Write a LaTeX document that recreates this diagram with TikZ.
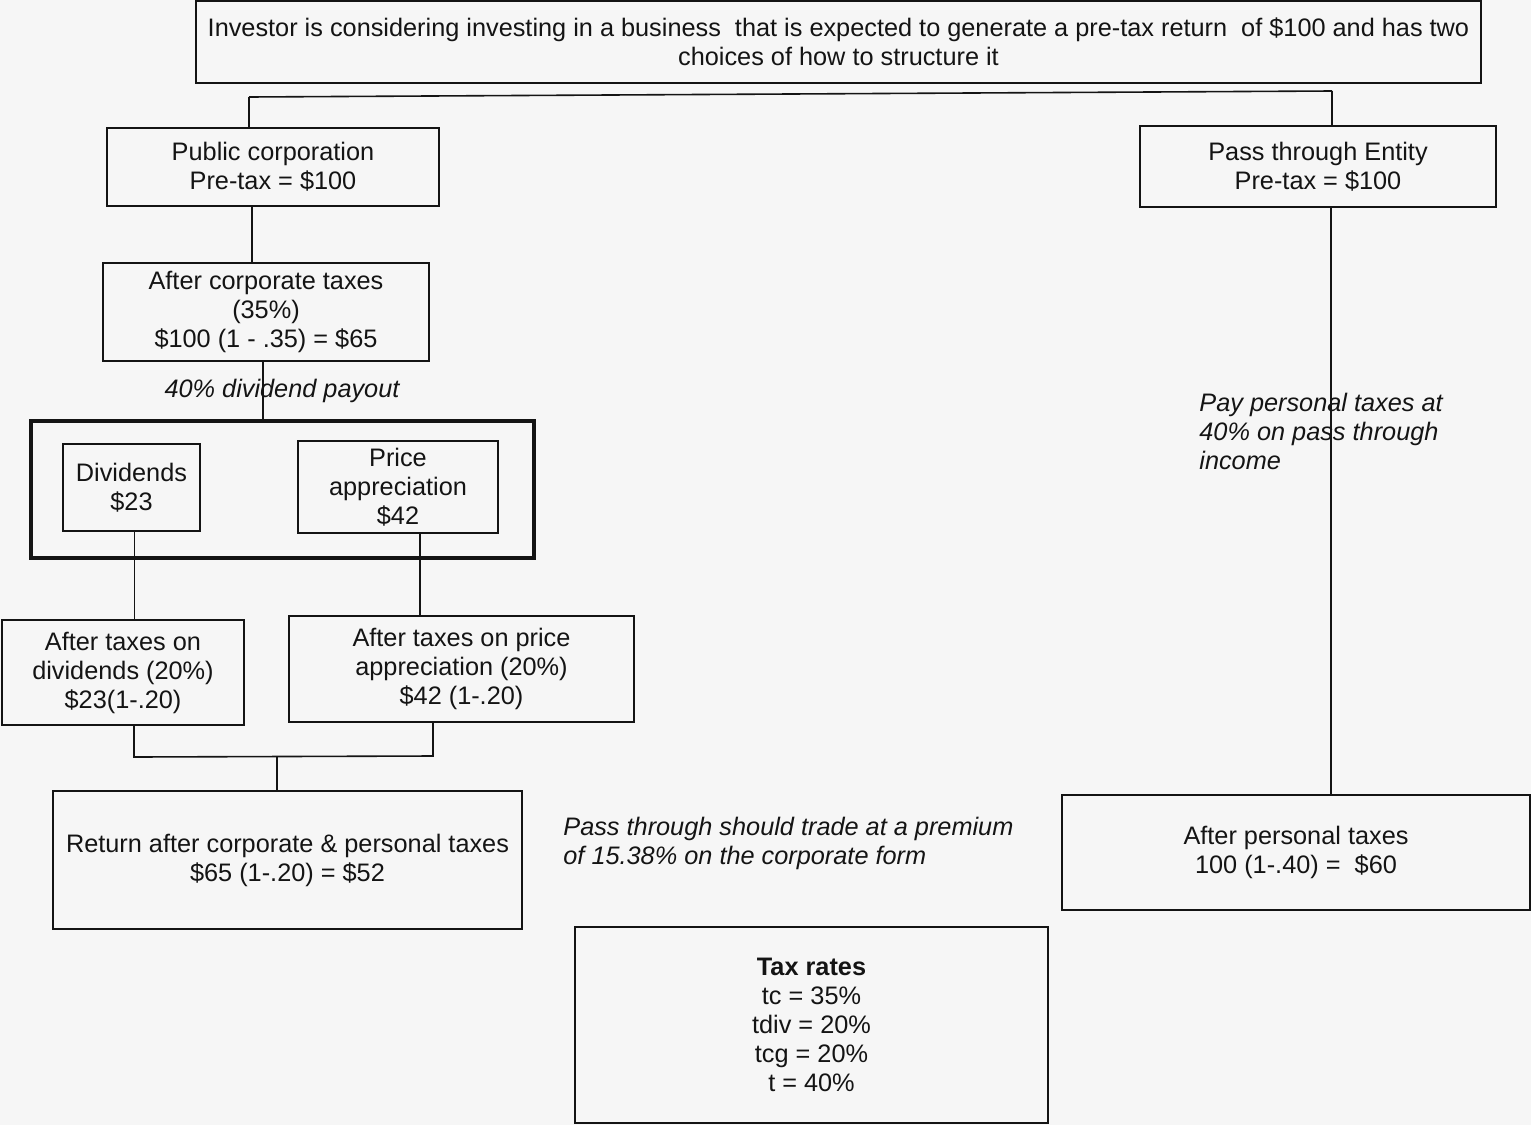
\documentclass[tikz,border=0pt]{standalone}
\usepackage{fontspec}
\setmainfont{Liberation Sans}
\definecolor{bg}{RGB}{246,246,246}
\definecolor{ink}{RGB}{20,20,20}
\begin{document}
\begin{tikzpicture}[x=0.5pt,y=-0.5pt,
  every node/.style={font=\fontsize{12.65}{14.5}\selectfont, text=ink},
  box/.style={draw=ink, line width=1pt, inner sep=0pt, align=center},
  bigbox/.style={draw=ink, line width=2pt, inner sep=0pt},
  note/.style={font=\fontsize{12.65}{14.5}\selectfont\itshape, align=left, inner sep=0pt},
  conn/.style={draw=ink, line width=0.8pt}]
\fill[bg] (0,0) rectangle (1531,1125);
\useasboundingbox (0,0) rectangle (1531,1125);

\node[box, minimum width=642.5pt, minimum height=41pt] (top) at (838.5,42)
  {Investor is considering investing in a business\ \ that is expected to generate a pre-tax return\ \ of \$100 and has two\\choices of how to structure it};

\node[box, minimum width=166pt, minimum height=39pt] (pub) at (273,167) {Public corporation\\Pre-tax = \$100};
\node[box, minimum width=163pt, minimum height=49pt] (corp) at (266,312) {After corporate taxes\\(35\%)\\\$100 (1 - .35) = \$65};
\node[bigbox, minimum width=251.5pt, minimum height=68.5pt] (grp) at (282.5,489.5) {};
\node[box, minimum width=68.5pt, minimum height=43.5pt] (div) at (131.5,487.5) {Dividends\\\$23};
\node[box, minimum width=100pt, minimum height=46pt] (price) at (398,487) {Price\\appreciation\\\$42};
\node[box, minimum width=121pt, minimum height=52.5pt] (atd) at (123,672.5) {After taxes on\\dividends (20\%)\\\$23(1-.20)};
\node[box, minimum width=172.5pt, minimum height=53pt] (atp) at (461.5,669) {After taxes on price\\appreciation (20\%)\\\$42 (1-.20)};
\node[box, minimum width=234.5pt, minimum height=69pt] (ret) at (287.5,860) {Return after corporate \& personal taxes\\\$65 (1-.20) = \$52};
\node[box, minimum width=236.5pt, minimum height=98pt] (tax) at (811.5,1025) {\textbf{Tax rates}\\tc = 35\%\\tdiv = 20\%\\tcg = 20\%\\t = 40\%};
\node[box, minimum width=178pt, minimum height=40.5pt] (pte) at (1318,166.5) {Pass through Entity\\Pre-tax = \$100};
\node[box, minimum width=234pt, minimum height=57.5pt] (apt) at (1296,852.5) {After personal taxes\\100 (1-.40) =\ \ \$60};

\node[note, anchor=center] (payout) at (282,391) {40\% dividend payout};
\node[note, anchor=west] (prem) at (563,843.5) {Pass through should trade at a premium\\of 15.38\% on the corporate form};
\node[note, anchor=west] (pay) at (1199,431) {Pay personal taxes at\\40\% on pass through\\income};

\coordinate (jl) at (249,97);
\coordinate (jr) at (1332,91);
\coordinate (x1) at (252,0);
\coordinate (x2) at (263,0);
\coordinate (x3) at (134.5,0);
\coordinate (x4) at (420,0);
\coordinate (bl) at (134,757);
\coordinate (br) at (433,756);
\coordinate (bm) at (277,756);
\coordinate (x5) at (1331,0);

\draw[conn] (jl) -- (jr);
\draw[conn] (jl) -- (jl |- pub.north);
\draw[conn] (jr) -- (jr |- pte.north);
\draw[conn] (x1 |- pub.south) -- (x1 |- corp.north);
\draw[conn] (x2 |- corp.south) -- (x2 |- grp.north);
\draw[conn] (x3 |- div.south) -- (x3 |- atd.north);
\draw[conn] (x4 |- price.south) -- (x4 |- atp.north);
\draw[conn] (bl |- atd.south) -- (bl) -- (br) -- (br |- atp.south);
\draw[conn] (bm) -- (bm |- ret.north);
\draw[conn] (x5 |- pte.south) -- (x5 |- apt.north);
\end{tikzpicture}
\end{document}
